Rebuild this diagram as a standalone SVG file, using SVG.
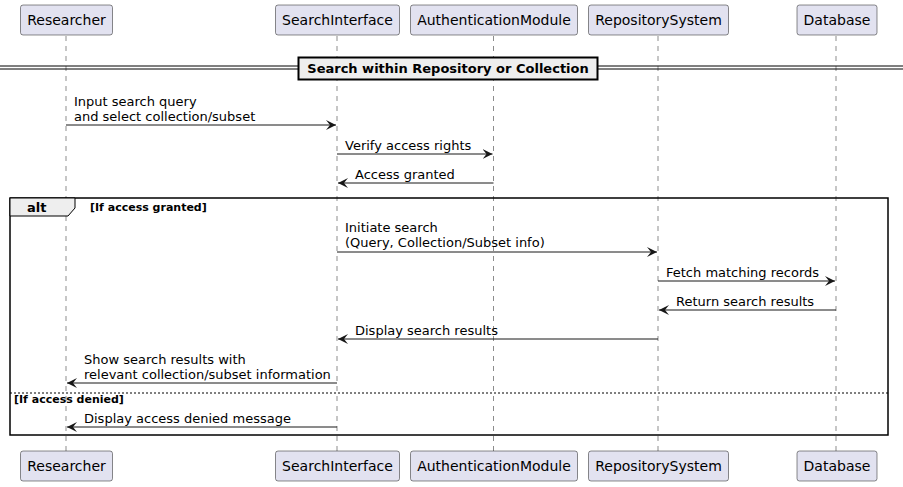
<svg xmlns="http://www.w3.org/2000/svg" width="903" height="487" viewBox="0 0 903 487">
<defs>
<marker id="ah" markerWidth="12" markerHeight="10" refX="10" refY="5" orient="auto" markerUnits="userSpaceOnUse">
<path d="M0,0 L10,5 L0,10 L4,5 Z" fill="#181818"/>
</marker>
</defs>
<style>
.pbox{fill:#E2E2F0;stroke:#181818;stroke-width:0.5}
.pt{font-family:"DejaVu Sans",sans-serif;font-size:14px;fill:#000}
.life{stroke:#181818;stroke-width:0.5;stroke-dasharray:5,5}
.msg{stroke:#181818;stroke-width:1;fill:none}
.mt{font-family:"DejaVu Sans",sans-serif;font-size:13px;fill:#000}
.bt{font-family:"DejaVu Sans",sans-serif;font-size:11px;font-weight:bold;fill:#000}
</style>
<rect width="903" height="487" fill="#fff"/>
<g id="lifelines">
<line class="life" x1="66" y1="36" x2="66" y2="451"/>
<line class="life" x1="337" y1="36" x2="337" y2="451"/>
<line class="life" x1="493.5" y1="36" x2="493.5" y2="451"/>
<line class="life" x1="658" y1="36" x2="658" y2="451"/>
<line class="life" x1="836" y1="36" x2="836" y2="451"/>
</g>
<g id="p-researcher">
<rect class="pbox" x="20.5" y="5" width="92" height="30" rx="2.5"/>
<text class="pt" x="66.5" y="25" text-anchor="middle">Researcher</text>
<rect class="pbox" x="20.5" y="451" width="92" height="30" rx="2.5"/>
<text class="pt" x="66.5" y="471" text-anchor="middle">Researcher</text>
</g>
<g id="p-searchinterface">
<rect class="pbox" x="275.5" y="5" width="124" height="30" rx="2.5"/>
<text class="pt" x="337.5" y="25" text-anchor="middle">SearchInterface</text>
<rect class="pbox" x="275.5" y="451" width="124" height="30" rx="2.5"/>
<text class="pt" x="337.5" y="471" text-anchor="middle">SearchInterface</text>
</g>
<g id="p-authmodule">
<rect class="pbox" x="410.5" y="5" width="167" height="30" rx="2.5"/>
<text class="pt" x="494" y="25" text-anchor="middle">AuthenticationModule</text>
<rect class="pbox" x="410.5" y="451" width="167" height="30" rx="2.5"/>
<text class="pt" x="494" y="471" text-anchor="middle">AuthenticationModule</text>
</g>
<g id="p-repository">
<rect class="pbox" x="588.5" y="5" width="140" height="30" rx="2.5"/>
<text class="pt" x="658.5" y="25" text-anchor="middle">RepositorySystem</text>
<rect class="pbox" x="588.5" y="451" width="140" height="30" rx="2.5"/>
<text class="pt" x="658.5" y="471" text-anchor="middle">RepositorySystem</text>
</g>
<g id="p-database">
<rect class="pbox" x="797" y="5" width="80" height="30" rx="2.5"/>
<text class="pt" x="837" y="25" text-anchor="middle">Database</text>
<rect class="pbox" x="797" y="451" width="80" height="30" rx="2.5"/>
<text class="pt" x="837" y="471" text-anchor="middle">Database</text>
</g>
<g id="divider">
<line x1="0" y1="66" x2="903" y2="66" stroke="#000" stroke-width="1"/>
<line x1="0" y1="69" x2="903" y2="69" stroke="#000" stroke-width="1"/>
<rect x="298.5" y="57.5" width="299" height="22" fill="#EEEEEE" stroke="#000" stroke-width="2"/>
<text x="448" y="73" text-anchor="middle" font-family="DejaVu Sans, sans-serif" font-size="13" font-weight="bold">Search within Repository or Collection</text>
</g>
<g id="alt-frame">
<rect x="10" y="198" width="878" height="237" fill="none" stroke="#000" stroke-width="1.5"/>
<path d="M10,198 L75,198 L75,208 L68,216 L10,216 Z" fill="#EEEEEE" stroke="#000" stroke-width="1"/>
<text x="27" y="212" font-family="DejaVu Sans, sans-serif" font-size="13" font-weight="bold">alt</text>
<text class="bt" x="90" y="211">[If access granted]</text>
<line x1="10" y1="393" x2="888" y2="393" stroke="#000" stroke-width="1" stroke-dasharray="2,2"/>
<text class="bt" x="14" y="403">[If access denied]</text>
</g>
<g id="connectors">
<line class="msg" x1="66" y1="125" x2="336" y2="125" marker-end="url(#ah)"/>
<text class="mt" x="74" y="106">Input search query</text>
<text class="mt" x="74" y="121">and select collection/subset</text>
<line class="msg" x1="337" y1="154" x2="492.5" y2="154" marker-end="url(#ah)"/>
<text class="mt" x="345" y="150">Verify access rights</text>
<line class="msg" x1="493.5" y1="183" x2="338" y2="183" marker-end="url(#ah)"/>
<text class="mt" x="355" y="179">Access granted</text>
<line class="msg" x1="337" y1="252" x2="657" y2="252" marker-end="url(#ah)"/>
<text class="mt" x="345" y="232">Initiate search</text>
<text class="mt" x="345" y="247">(Query, Collection/Subset info)</text>
<line class="msg" x1="658" y1="281" x2="835" y2="281" marker-end="url(#ah)"/>
<text class="mt" x="666" y="277">Fetch matching records</text>
<line class="msg" x1="836" y1="310" x2="659" y2="310" marker-end="url(#ah)"/>
<text class="mt" x="676" y="306">Return search results</text>
<line class="msg" x1="658" y1="339" x2="338" y2="339" marker-end="url(#ah)"/>
<text class="mt" x="355" y="335">Display search results</text>
<line class="msg" x1="337" y1="383" x2="67" y2="383" marker-end="url(#ah)"/>
<text class="mt" x="84" y="364">Show search results with</text>
<text class="mt" x="84" y="379">relevant collection/subset information</text>
<line class="msg" x1="337" y1="427" x2="67" y2="427" marker-end="url(#ah)"/>
<text class="mt" x="84" y="423">Display access denied message</text>
</g>
</svg>
